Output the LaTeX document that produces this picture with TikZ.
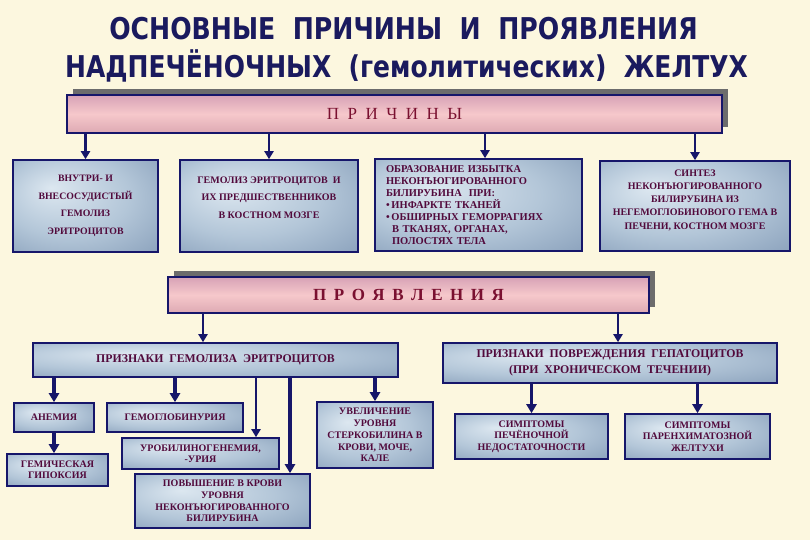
\documentclass[tikz,border=0pt]{standalone}
\usepackage{fontspec}
\setmainfont{Liberation Serif}
\newfontfamily\titlefont{DejaVu Sans}
\usetikzlibrary{arrows.meta}
\definecolor{bgc}{HTML}{FCF7DF}
\definecolor{navy}{HTML}{16166A}
\definecolor{titlec}{HTML}{1A1A5E}
\definecolor{txtc}{HTML}{520A3C}
\definecolor{redtxt}{HTML}{7A1030}
\definecolor{bxlight}{HTML}{DCE7F0}
\definecolor{bxmid}{HTML}{B3C6D8}
\definecolor{bxdark}{HTML}{7F97B4}
\definecolor{pktop}{HTML}{D7A2B6}
\definecolor{pkmid}{HTML}{F6C8CB}
\definecolor{pkbot}{HTML}{DDA9B3}
\pgfdeclareradialshading{boxshade}{\pgfpoint{-12bp}{10bp}}{color(0bp)=(bxlight); color(22bp)=(bxmid); color(45bp)=(bxdark); color(50bp)=(bxdark)}
\newcommand{\lsa}{\hspace{8.5pt}}
\newcommand{\lsb}{\hspace{7.5pt}}
\tikzset{
  cbox/.style={draw=navy, line width=1.6pt, shading=boxshade, inner sep=0pt,
    text=txtc, font=\bfseries\fontsize{10}{12}\selectfont, align=center},
  pbar/.style={draw=navy, line width=2pt, top color=pktop, bottom color=pkbot,
    middle color=pkmid, inner sep=0pt},
  pshadow/.style={fill=gray!85!black, draw=none, inner sep=0pt},
  arr/.style={draw=navy, line width=2.6pt, -{Triangle[width=9pt,length=8pt]}},
  thickarr/.style={draw=navy, line width=3.6pt, -{Triangle[width=10pt,length=9pt]}},
  ttl/.style={text=titlec, inner sep=0pt, anchor=base, font=\titlefont\bfseries\fontsize{30}{30}\selectfont},
}
\begin{document}
\begin{tikzpicture}[x=1pt,y=-1pt]
\fill[bgc] (0,0) rectangle (810,540);
\useasboundingbox (0,0) rectangle (810,540);
% title
\node[ttl] (t1) at (403.5,40)
  {\scalebox{0.84}[1]{ОСНОВНЫЕ\ \ ПРИЧИНЫ\ \ И\ \ ПРОЯВЛЕНИЯ}};
\node[ttl] (t2) at (406.5,78)
  {\scalebox{0.833}[1]{НАДПЕЧЁНОЧНЫХ\ \ (гемолитических)\ \ ЖЕЛТУХ}};
% ПРИЧИНЫ bar
\node[pshadow, minimum width=655pt, minimum height=38pt] (prichsh) at (400.5,108) {};
\node[pbar, minimum width=655pt, minimum height=38pt, text=redtxt,
  font=\fontsize{17}{17}\selectfont] (prich) at (394.5,114) {П\lsa Р\lsa И\lsa Ч\lsa И\lsa Н\lsa Ы};
% row 1 boxes
\node[cbox, minimum width=145pt, minimum height=92pt, font=\bfseries\fontsize{9.8}{17.5}\selectfont] (b1) at (85.5,206)
  {ВНУТРИ- И\\ВНЕСОСУДИСТЫЙ\\ГЕМОЛИЗ\\ЭРИТРОЦИТОВ};
\node[cbox, minimum width=178pt, minimum height=92pt, font=\bfseries\fontsize{10}{17.5}\selectfont] (b2) at (269,206)
  {ГЕМОЛИЗ ЭРИТРОЦИТОВ\ \ И\\ИХ ПРЕДШЕСТВЕННИКОВ\\В КОСТНОМ МОЗГЕ\\\mbox{}};
\node[cbox, minimum width=207pt, minimum height=92pt, align=left, inner xsep=11pt, text width=185pt,
  font=\bfseries\fontsize{10.5}{12.1}\selectfont] (b3) at (478.5,205)
  {ОБРАЗОВАНИЕ ИЗБЫТКА\\НЕКОНЪЮГИРОВАННОГО\\БИЛИРУБИНА\ \ ПРИ:\\•\,ИНФАРКТЕ ТКАНЕЙ\\•\,ОБШИРНЫХ ГЕМОРРАГИЯХ\\\hspace*{6pt}В ТКАНЯХ, ОРГАНАХ,\\\hspace*{6pt}ПОЛОСТЯХ ТЕЛА};
\node[cbox, minimum width=190pt, minimum height=90pt, font=\bfseries\fontsize{10}{13.2}\selectfont] (b4) at (695,206)
  {СИНТЕЗ\\НЕКОНЪЮГИРОВАННОГО\\БИЛИРУБИНА ИЗ\\НЕГЕМОГЛОБИНОВОГО ГЕМА В\\ПЕЧЕНИ, КОСТНОМ МОЗГЕ\\\mbox{}};
\draw[arr] (prich.south -| b1.north) -- (b1.north);
\draw[arr] (prich.south -| b2.north) -- (b2.north);
\coordinate (c3) at (485,133);
\draw[arr] (c3) -- (c3 |- b3.north);
\draw[arr] (prich.south -| b4.north) -- (b4.north);
% ПРОЯВЛЕНИЯ bar
\node[pshadow, minimum width=481pt, minimum height=36pt] (proyavsh) at (414.5,289) {};
\node[pbar, minimum width=481pt, minimum height=36pt, text=redtxt,
  font=\bfseries\fontsize{17}{17}\selectfont] (proyav) at (408.5,295) {П\lsb Р\lsb О\lsb Я\lsb В\lsb Л\lsb Е\lsb Н\lsb И\lsb Я};
% second level
\node[cbox, minimum width=365pt, minimum height=34pt, font=\bfseries\fontsize{11.8}{12}\selectfont] (hem) at (215.5,360)
  {ПРИЗНАКИ\ \ ГЕМОЛИЗА\ \ ЭРИТРОЦИТОВ};
\node[cbox, minimum width=334pt, minimum height=40pt, font=\bfseries\fontsize{11.8}{16}\selectfont] (hep) at (610,363)
  {ПРИЗНАКИ\ \ ПОВРЕЖДЕНИЯ\ \ ГЕПАТОЦИТОВ\\(ПРИ\ \ ХРОНИЧЕСКОМ\ \ ТЕЧЕНИИ)};
\coordinate (p1) at (203,313);
\coordinate (p2) at (618,313);
\draw[arr] (p1) -- (p1 |- hem.north);
\draw[arr] (p2) -- (p2 |- hep.north);
% hemolysis children
\node[cbox, minimum width=80pt, minimum height=29pt, font=\bfseries\fontsize{10}{11}\selectfont] (anem) at (54,417.5) {АНЕМИЯ};
\node[cbox, minimum width=101pt, minimum height=32pt, font=\bfseries\fontsize{10}{11}\selectfont] (gip) at (57.5,470) {ГЕМИЧЕСКАЯ\\ГИПОКСИЯ};
\node[cbox, minimum width=136pt, minimum height=29pt, font=\bfseries\fontsize{10}{11}\selectfont] (gemogl) at (175,417.5) {ГЕМОГЛОБИНУРИЯ};
\node[cbox, minimum width=157pt, minimum height=31pt, font=\bfseries\fontsize{10}{11.5}\selectfont] (uro) at (200.5,453.5) {УРОБИЛИНОГЕНЕМИЯ,\\-УРИЯ};
\node[cbox, minimum width=175pt, minimum height=54pt, font=\bfseries\fontsize{10}{11.8}\selectfont] (pov) at (222.5,501) {ПОВЫШЕНИЕ В КРОВИ\\УРОВНЯ\\НЕКОНЪЮГИРОВАННОГО\\БИЛИРУБИНА};
\node[cbox, minimum width=116pt, minimum height=66pt, font=\bfseries\fontsize{10}{11.8}\selectfont] (uvel) at (375,435) {УВЕЛИЧЕНИЕ\\УРОВНЯ\\СТЕРКОБИЛИНА В\\КРОВИ, МОЧЕ,\\КАЛЕ};
\coordinate (h3) at (256,377);
\coordinate (h4) at (290,377);
\draw[thickarr] (hem.south -| anem.north) -- (anem.north);
\draw[thickarr] (hem.south -| gemogl.north) -- (gemogl.north);
\draw[arr] (h3) -- (h3 |- uro.north);
\draw[thickarr] (h4) -- (h4 |- pov.north);
\draw[thickarr] (hem.south -| uvel.north) -- (uvel.north);
\draw[thickarr] (anem.south) -- (anem.south |- gip.north);
% hepatocyte children
\node[cbox, minimum width=153pt, minimum height=45pt, font=\bfseries\fontsize{10}{11.5}\selectfont] (pech) at (531.5,436.5) {СИМПТОМЫ\\ПЕЧЁНОЧНОЙ\\НЕДОСТАТОЧНОСТИ};
\node[cbox, minimum width=145pt, minimum height=45pt, font=\bfseries\fontsize{10}{11.5}\selectfont] (par) at (697.5,436.5) {СИМПТОМЫ\\ПАРЕНХИМАТОЗНОЙ\\ЖЕЛТУХИ};
\draw[thickarr] (hep.south -| pech.north) -- (pech.north);
\draw[thickarr] (hep.south -| par.north) -- (par.north);
\end{tikzpicture}
\end{document}
